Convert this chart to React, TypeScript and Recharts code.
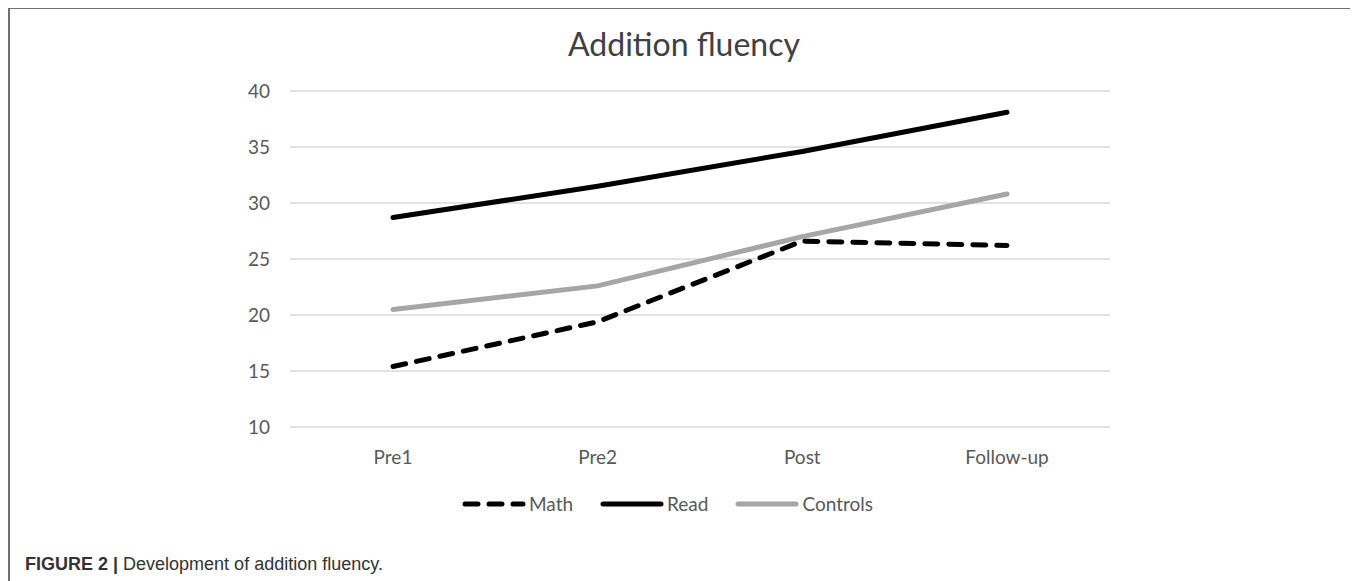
import { LineChart, Line, XAxis, YAxis, CartesianGrid, Legend } from 'recharts';

const timepoints = ['Pre1', 'Pre2', 'Post', 'Follow-up'];
const math = [15.4, 19.4, 26.6, 26.2];
const read = [28.7, 31.5, 34.6, 38.1];
const controls = [20.5, 22.6, 27.0, 30.8];
const yTicks = [10, 15, 20, 25, 30, 35, 40];

const data = timepoints.map((name, i) => ({
  name,
  Math: math[i],
  Read: read[i],
  Controls: controls[i],
}));

const font = 'Lato, "Open Sans", sans-serif';

const legendItems = [
  { key: 'Math', color: '#000000', dash: '13 11' },
  { key: 'Read', color: '#000000', dash: undefined },
  { key: 'Controls', color: '#a6a6a6', dash: undefined },
];

const ChartLegend = () => (
  <div style={{ display: 'flex', justifyContent: 'center', alignItems: 'center', fontFamily: font, fontSize: 19, color: '#595959' }}>
    {legendItems.map((item) => (
      <div key={item.key} style={{ display: 'flex', alignItems: 'center', marginRight: 26 }}>
        <svg width={66} height={12}>
          <line x1={4} y1={6} x2={62} y2={6} stroke={item.color} strokeWidth={5} strokeLinecap="round" strokeDasharray={item.dash} />
        </svg>
        <span style={{ marginLeft: 2 }}>{item.key}</span>
      </div>
    ))}
  </div>
);

export default function App() {
  return (
    <div style={{ position: 'relative', width: 1345, height: 590, marginTop: -1, border: '2px solid #707070', borderBottom: 'none', background: '#fff' }}>
      <div style={{ position: 'absolute', left: 0, width: 1340, top: 15, textAlign: 'center', fontFamily: font, fontSize: 32, color: '#404040' }}>
        <span style={{ position: 'relative', left: 4 }}>Addition fluency</span>
      </div>
      <div style={{ position: 'absolute', left: 0, top: 0 }}>
        <LineChart width={1340} height={530} data={data} margin={{ top: 82, right: 240, bottom: 0, left: 0 }}>
          <CartesianGrid horizontal vertical={false} stroke="#d9d9d9" strokeWidth={1.5} />
          <XAxis
            dataKey="name"
            axisLine={false}
            tickLine={false}
            tickSize={0}
            tickMargin={24}
            padding={{ left: 103, right: 103 }}
            height={89}
            tick={{ fill: '#595959', fontSize: 19, fontFamily: font }}
          />
          <YAxis
            domain={[10, 40]}
            ticks={yTicks}
            axisLine={false}
            tickLine={false}
            tickSize={0}
            tickMargin={20}
            width={280}
            tick={{ fill: '#595959', fontSize: 19, fontFamily: font }}
          />
          <Legend content={<ChartLegend />} verticalAlign="bottom" wrapperStyle={{ bottom: 24, left: 0, width: 1340 }} />
          <Line dataKey="Read" stroke="#000000" strokeWidth={5} strokeLinecap="round" dot={false} isAnimationActive={false} />
          <Line dataKey="Controls" stroke="#a6a6a6" strokeWidth={5} strokeLinecap="round" dot={false} isAnimationActive={false} />
          <Line dataKey="Math" stroke="#000000" strokeWidth={5} strokeLinecap="round" strokeDasharray="13 11" dot={false} isAnimationActive={false} />
        </LineChart>
      </div>
      <div style={{ position: 'absolute', left: 15, top: 545, fontFamily: '"Liberation Sans", Arial, sans-serif', fontSize: 18, color: '#333' }}>
        <b>FIGURE 2 |</b> Development of addition fluency.
      </div>
    </div>
  );
}
